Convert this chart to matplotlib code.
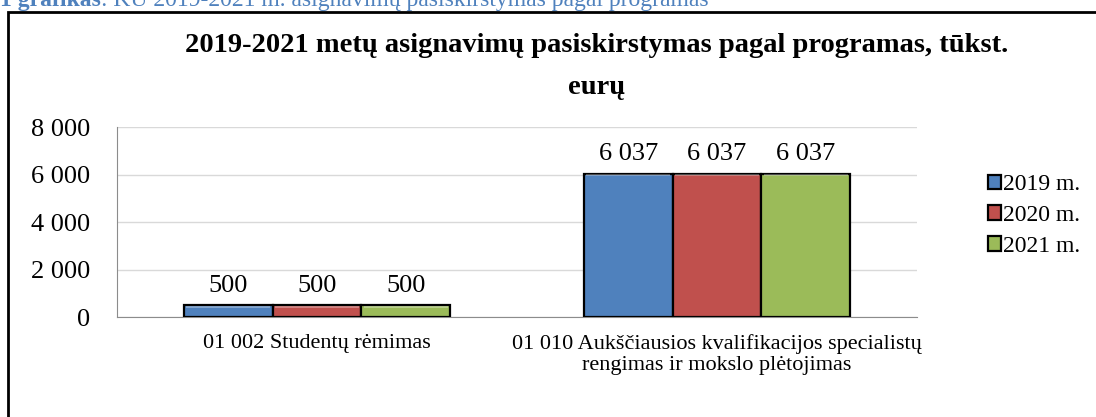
import matplotlib.pyplot as plt
import numpy as np
from matplotlib.patches import Rectangle

# data
programs = ["01 002 Studentų rėmimas",
            "01 010 Aukščiausios kvalifikacijos specialistų\nrengimas ir mokslo plėtojimas"]
years = ["2019 m.", "2020 m.", "2021 m."]
values_2019 = [500, 6037]
values_2020 = [500, 6037]
values_2021 = [500, 6037]
value_labels = ["500", "6 037"]
yticks = [0, 2000, 4000, 6000, 8000]
ytick_labels = ["0", "2 000", "4 000", "6 000", "8 000"]

colors = ["#4F81BD", "#C0504D", "#9BBB59"]

plt.rcParams['font.family'] = ['Liberation Serif', 'DejaVu Serif']

W, H = 1096, 417
fig = plt.figure(figsize=(W / 100, H / 100), dpi=100)

# axes placed in pixel coordinates of the reference
left, right, top, bottom = 117, 917, 127, 317
ax = fig.add_axes([left / W, 1 - bottom / H, (right - left) / W, (bottom - top) / H])

x = np.arange(len(programs))
width = 0.222
series = [values_2019, values_2020, values_2021]
for i, vals in enumerate(series):
    pos = x + (i - 1) * width
    ax.bar(pos, vals, width, color=colors[i], edgecolor="black", linewidth=1.6,
           label=years[i], zorder=3)
    # lighter top strip to mimic the bevel look
    ax.bar(pos, [70 for v in vals], width * 0.94, bottom=[v - 100 for v in vals],
           color="white", alpha=0.3, linewidth=0, zorder=4)
    for p, v, lab in zip(pos, vals, value_labels):
        ax.text(p, v + 360, lab, ha="center", va="bottom", fontsize=19)

ax.set_xlim(-0.5, 1.5)
ax.set_ylim(0, 8000)
ax.set_yticks(yticks)
ax.set_yticklabels(ytick_labels, fontsize=19)
ax.tick_params(axis="y", length=0, pad=19)
ax.set_xticks(x)
ax.set_xticklabels(programs, fontsize=16, linespacing=1.15)
ax.tick_params(axis="x", length=0, pad=12)
ax.grid(axis="y", color="#d9d9d9", linewidth=1, zorder=0)
for s in ["top", "right"]:
    ax.spines[s].set_visible(False)
ax.spines["left"].set_color("#8c8c8c")
ax.spines["bottom"].set_color("#8c8c8c")

# legend
leg = ax.legend(loc="upper right", bbox_to_anchor=(1080 / W, 1 - 174 / H),
                bbox_transform=fig.transFigure, frameon=False, fontsize=17,
                handlelength=0.55, handleheight=0.55, handletextpad=0.1,
                labelspacing=0.42, borderaxespad=0, borderpad=0)

# chart title
fig.text(597 / W, 1 - 46 / H, "2019-2021 metų asignavimų pasiskirstymas pagal programas, tūkst.",
         ha="center", va="center", fontsize=20.5, fontweight="bold")
fig.text(597 / W, 1 - 87 / H, "eurų", ha="center", va="center", fontsize=20.5, fontweight="bold")

# outer frame, cut by the page edge
fig.patches.append(Rectangle((8 / W, -0.1), 1.2, 1 - 12 / H + 0.1, transform=fig.transFigure,
                             fill=False, edgecolor="black", linewidth=2))

# document caption above the chart, cut at the top
cap1 = fig.text(0 / W, 1 - 6 / H, "1 grafikas", ha="left", va="baseline", fontsize=17,
                fontweight="bold", color="#4F81BD")
ax.annotate(": KU 2019-2021 m. asignavimų pasiskirstymas pagal programas",
            xy=(1, 0), xycoords=cap1, ha="left", va="bottom", fontsize=17,
            color="#4F81BD", annotation_clip=False)

fig.savefig("out.png", dpi=100)
